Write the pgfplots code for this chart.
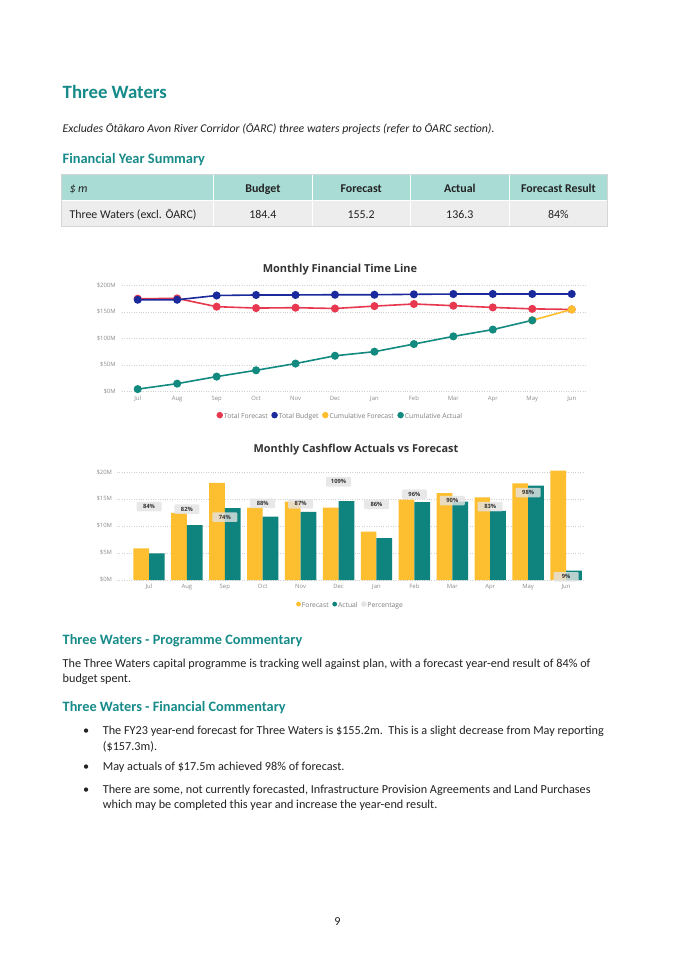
\documentclass[border=0pt]{standalone}
\usepackage{pgfplots}
\pgfplotsset{compat=1.18}
\usepackage{fontspec}
\setmainfont{Carlito}
\newfontfamily\chartfont{Open Sans}
\definecolor{headteal}{HTML}{168B89}
\definecolor{tblhead}{HTML}{A8DCD5}
\definecolor{tblrow}{HTML}{EDEDED}
\definecolor{tblborder}{HTML}{D6D6D6}
\definecolor{bodytext}{HTML}{222222}
\definecolor{ctitle}{HTML}{333333}
\definecolor{tickgrey}{HTML}{8C8C8C}
\definecolor{gridgrey}{HTML}{D0D0D0}
\definecolor{lred}{HTML}{E8384F}
\definecolor{lblue}{HTML}{1A2A9C}
\definecolor{lyellow}{HTML}{FDBF2F}
\definecolor{lteal}{HTML}{138A80}
\definecolor{bteal}{HTML}{0F847E}
\definecolor{pctgrey}{HTML}{E3E3E3}
\definecolor{pcttext}{HTML}{333333}
\pgfplotsset{dotlegend/.style={legend image code/.code={\fill[##1] (0pt,2pt) circle (2.4pt);}}}

\begin{document}
\begin{tikzpicture}
\begin{scope}[x=1pt,y=1pt]
\fill[white] (0,0) rectangle (675,-955);
% headings
\node[anchor=base west, inner sep=0, text=headteal, font=\fontsize{18.8}{20}\selectfont\bfseries] at (62.5,-98.3) {Three Waters};
\node[anchor=base west, inner sep=0, text=bodytext, font=\fontsize{11.8}{13}\selectfont\itshape] at (62.5,-132.8) {Excludes Ōtākaro Avon River Corridor (ŌARC) three waters projects (refer to ŌARC section).};
\node[anchor=base west, inner sep=0, text=headteal, font=\fontsize{14.4}{15}\selectfont\bfseries] at (62.5,-163.3) {Financial Year Summary};
% table
\fill[tblhead] (61.7,-174.3) rectangle (607.7,-200);
\fill[tblrow] (61.7,-200) rectangle (607.7,-226);
\foreach \xx in {213.8,311.9,410.4,509.2}{\draw[white, line width=0.7pt] (\xx,-174.3) -- (\xx,-226);}
\draw[white, line width=0.6pt] (61.7,-200) -- (607.7,-200);
\draw[tblborder, line width=0.6pt] (61.7,-174.3) rectangle (607.7,-226);
\begin{scope}[every node/.style={anchor=base, inner sep=0, text=bodytext, font=\fontsize{11.9}{13}\selectfont}]
\node[anchor=base west, font=\fontsize{11.9}{13}\selectfont\itshape] at (69.3,-192.7) {\$ m};
\node[font=\fontsize{11.9}{13}\selectfont\bfseries] at (262.9,-192.7) {Budget};
\node[font=\fontsize{11.9}{13}\selectfont\bfseries] at (361.2,-192.7) {Forecast};
\node[font=\fontsize{11.9}{13}\selectfont\bfseries] at (459.8,-192.7) {Actual};
\node[font=\fontsize{11.9}{13}\selectfont\bfseries] at (558.4,-192.7) {Forecast Result};
\node[anchor=base west] at (69.3,-218.3) {Three Waters (excl. ŌARC)};
\node at (262.9,-218.3) {184.4};
\node at (361.2,-218.3) {155.2};
\node at (459.8,-218.3) {136.3};
\node at (558.4,-218.3) {84\%};
\end{scope}
% chart titles
\node[anchor=center, inner sep=0, text=ctitle, font=\chartfont\bfseries\fontsize{11}{12}\selectfont] at (340,-270) {Monthly Financial Time Line};
\node[anchor=center, inner sep=0, text=ctitle, font=\chartfont\bfseries\fontsize{10.9}{12}\selectfont] at (356,-450) {Monthly Cashflow Actuals vs Forecast};
% commentary
\begin{scope}[every node/.style={anchor=base west, inner sep=0, text=bodytext, font=\fontsize{12.2}{13}\selectfont}]
\node[text=headteal, font=\fontsize{14.3}{15}\selectfont\bfseries] at (62.5,-644.3) {Three Waters - Programme Commentary};
\node at (62.5,-667.3) {The Three Waters capital programme is tracking well against plan, with a forecast year-end result of 84\% of};
\node at (62.5,-682) {budget spent.};
\node[text=headteal, font=\fontsize{14.3}{15}\selectfont\bfseries] at (62.5,-711.7) {Three Waters - Financial Commentary};
\node at (83,-734) {•};
\node at (102.7,-734) {The FY23 year-end forecast for Three Waters is \$155.2m.\ \ This is a slight decrease from May reporting};
\node at (102.7,-750) {(\$157.3m).};
\node at (83,-770.7) {•};
\node at (102.7,-770.7) {May actuals of \$17.5m achieved 98\% of forecast.};
\node at (83,-793.3) {•};
\node at (102.7,-793.3) {There are some, not currently forecasted, Infrastructure Provision Agreements and Land Purchases};
\node at (102.7,-808) {which may be completed this year and increase the year-end result.};
\node[anchor=base] at (337.5,-925) {9};
\end{scope}
\end{scope}

% ---------------- line chart ----------------
\begin{axis}[
  at={(121.7pt,-391.7pt)}, anchor=south west,
  scale only axis, width=465pt, height=106pt,
  xmin=-0.406, xmax=11.38, ymin=0, ymax=200,
  axis line style={draw=none}, tick style={draw=none},
  ymajorgrids, grid style={dotted, gridgrey, line width=0.9pt},
  xtick={0,...,11},
  xticklabels={Jul,Aug,Sep,Oct,Nov,Dec,Jan,Feb,Mar,Apr,May,Jun},
  ytick={0,50,100,150,200},
  yticklabels={\$0M,\$50M,\$100M,\$150M,\$200M},
  typeset ticklabels with strut,
  ticklabel style={font=\chartfont\fontsize{5.9}{7}\selectfont, text=tickgrey},
  xticklabel style={yshift=-0.5pt},
  yticklabel style={xshift=-2.5pt},
  clip=false,
  dotlegend,
  legend style={at={(0.469,-0.236)}, anchor=center, draw=none, fill=none,
    legend columns=-1, font=\chartfont\fontsize{6.8}{7}\selectfont, text=tickgrey!90!black,
    inner sep=0pt, nodes={inner sep=1pt},
    /tikz/every even column/.append style={column sep=2.6pt}},
]
\addplot[lred, line width=1.6pt, mark=*, mark size=3.2pt] coordinates {
(0,175.5) (1,176) (2,160.4) (3,157.8) (4,158.5) (5,157) (6,161.5) (7,165.5) (8,162.3) (9,159) (10,156.3) (11,155.2)};
\addlegendentry{Total Forecast}
\addplot[lblue, line width=1.6pt, mark=*, mark size=3.2pt] coordinates {
(0,173.5) (1,173.5) (2,181.5) (3,182.5) (4,182.5) (5,183) (6,183) (7,183.7) (8,184.3) (9,184.4) (10,184.4) (11,184.4)};
\addlegendentry{Total Budget}
\addplot[lyellow, line width=1.6pt, mark=*, mark size=3.2pt] coordinates {
(10,134.7) (11,155.2)};
\addlegendentry{Cumulative Forecast}
\addplot[lteal, line width=1.6pt, mark=*, mark size=3.2pt] coordinates {
(0,4.9) (1,15.2) (2,28.5) (3,40.4) (4,53.1) (5,67.8) (6,75.5) (7,89.9) (8,104.4) (9,117.2) (10,134.7)};
\addlegendentry{Cumulative Actual}
\end{axis}

% ---------------- bar chart ----------------
\begin{axis}[
  at={(117pt,-580pt)}, anchor=south west,
  scale only axis, width=468pt, height=110.5pt,
  xmin=-0.844, xmax=11.5, ymin=0, ymax=20.6,
  axis line style={draw=none}, tick style={draw=none},
  ymajorgrids, grid style={dotted, gridgrey, line width=0.9pt},
  xtick={0,...,11},
  xticklabels={Jul,Aug,Sep,Oct,Nov,Dec,Jan,Feb,Mar,Apr,May,Jun},
  ytick={0,5,10,15,20},
  yticklabels={\$0M,\$5M,\$10M,\$15M,\$20M},
  typeset ticklabels with strut,
  ticklabel style={font=\chartfont\fontsize{5.9}{7}\selectfont, text=tickgrey},
  xticklabel style={yshift=0pt},
  yticklabel style={xshift=-1.5pt},
  clip=false,
  legend style={at={(0.498,-0.235)}, anchor=center, draw=none, fill=none,
    legend columns=-1, font=\chartfont\fontsize{6.8}{7}\selectfont, text=tickgrey!90!black,
    inner sep=0pt, nodes={inner sep=1pt},
    /tikz/every even column/.append style={column sep=2.6pt}},
]
\addplot[ybar, bar width=15.7pt, bar shift=-7.85pt, fill=lyellow, draw=none, dotlegend] coordinates {
(0,5.9) (1,12.5) (2,18.1) (3,13.5) (4,14.6) (5,13.5) (6,9.0) (7,15.0) (8,16.2) (9,15.4) (10,18.0) (11,20.4)};
\addlegendentry{Forecast}
\addplot[ybar, bar width=15.7pt, bar shift=7.85pt, fill=bteal, draw=none, dotlegend] coordinates {
(0,4.95) (1,10.25) (2,13.4) (3,11.8) (4,12.7) (5,14.7) (6,7.8) (7,14.5) (8,14.6) (9,12.9) (10,17.6) (11,1.75)};
\addlegendentry{Actual}
\addplot[draw=none, forget plot, nodes near coords, point meta=explicit symbolic,
  every node near coord/.style={anchor=center, fill=pctgrey, fill opacity=0.8, text opacity=1,
    minimum width=25pt, minimum height=9.5pt, inner sep=0pt, rounded corners=1pt,
    font=\chartfont\bfseries\fontsize{5.8}{6}\selectfont, text=pcttext}]
table[meta=label] {
x y label
0 13.7 84\%
1 13.2 82\%
2 11.7 74\%
3 14.3 88\%
4 14.2 87\%
5 18.3 109\%
6 14.1 86\%
7 16.0 96\%
8 14.8 90\%
9 13.7 83\%
10 16.3 98\%
11 0.6 9\%
};
\addlegendimage{dotlegend, pctgrey, fill=pctgrey}
\addlegendentry{Percentage}
\end{axis}
\end{tikzpicture}
\end{document}
